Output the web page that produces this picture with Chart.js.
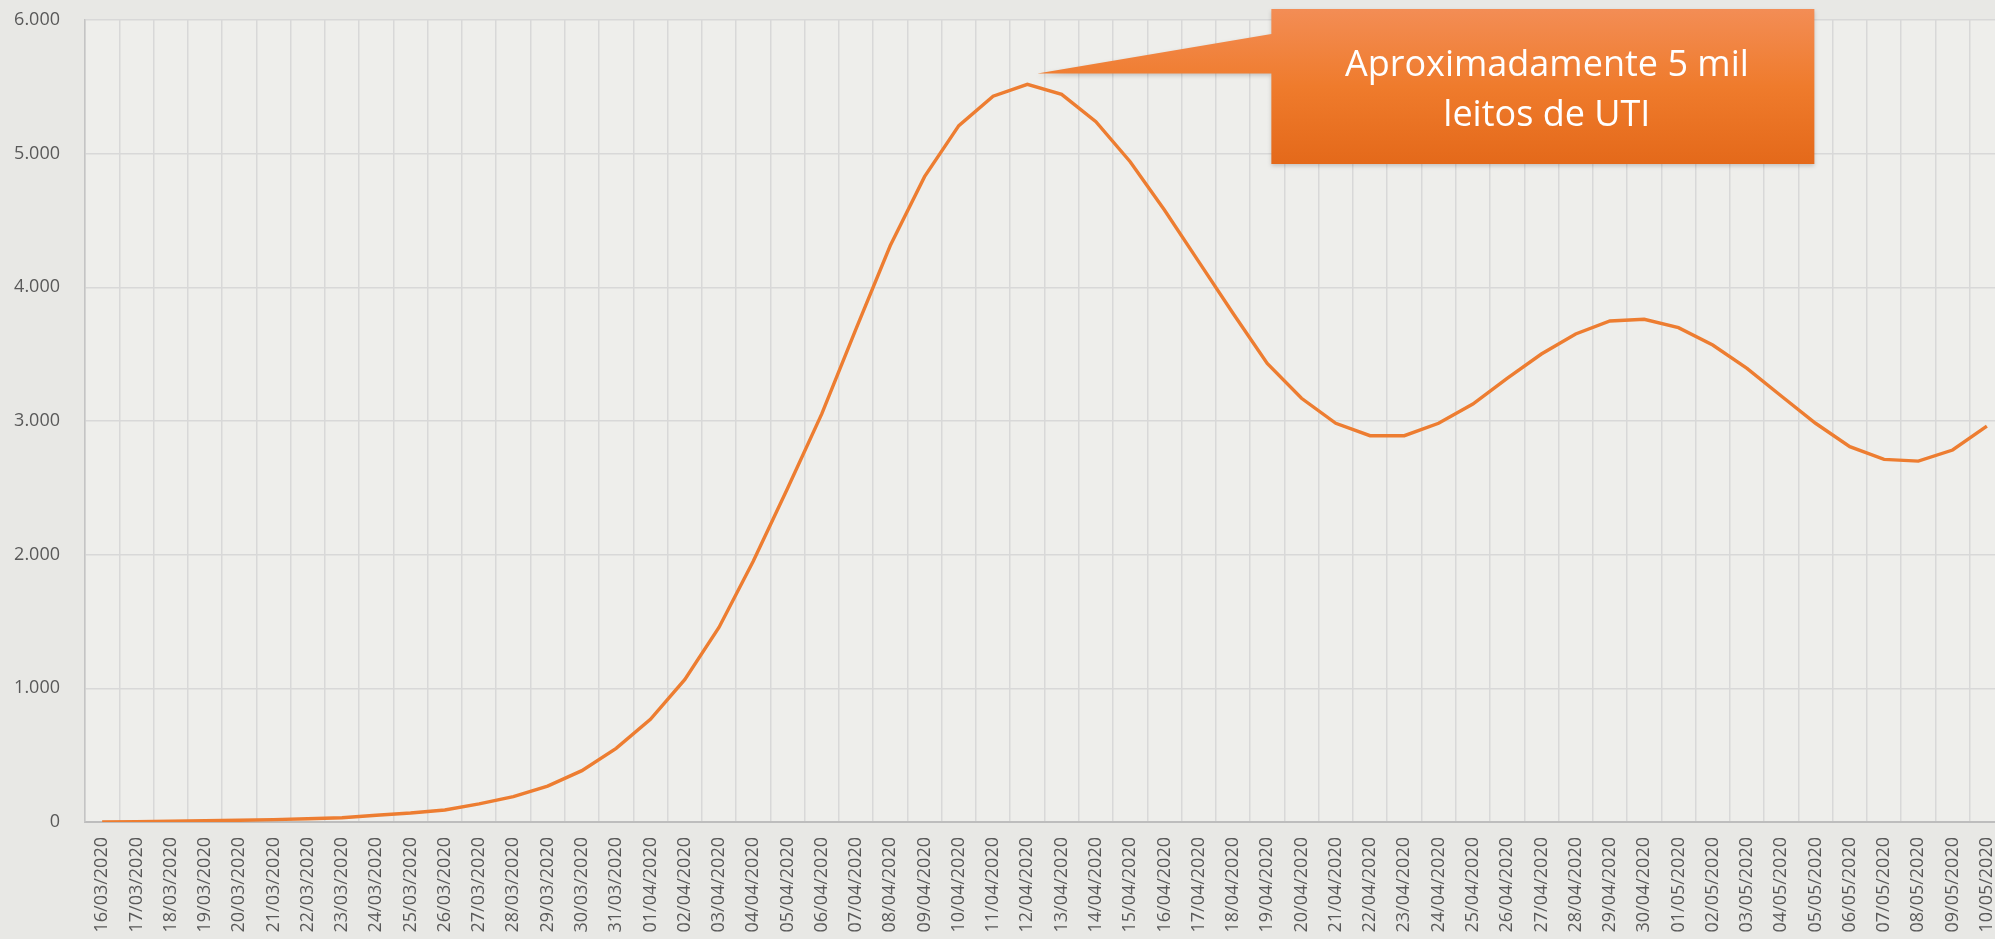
<!DOCTYPE html>
<html>
<head>
<meta charset="utf-8">
<script src="https://cdn.jsdelivr.net/npm/chart.js@4.4.1/dist/chart.umd.min.js"></script>
<style>
  html, body { margin: 0; padding: 0; overflow: hidden; background: #e9e9e6; }
  #leitos { display: block; }
</style>
</head>
<body>
<canvas id="leitos" width="2004" height="939"></canvas>
<script>
const DATES = [
  '16/03/2020', '17/03/2020', '18/03/2020', '19/03/2020', '20/03/2020', '21/03/2020', '22/03/2020', '23/03/2020',
  '24/03/2020', '25/03/2020', '26/03/2020', '27/03/2020', '28/03/2020', '29/03/2020', '30/03/2020', '31/03/2020',
  '01/04/2020', '02/04/2020', '03/04/2020', '04/04/2020', '05/04/2020', '06/04/2020', '07/04/2020', '08/04/2020',
  '09/04/2020', '10/04/2020', '11/04/2020', '12/04/2020', '13/04/2020', '14/04/2020', '15/04/2020', '16/04/2020',
  '17/04/2020', '18/04/2020', '19/04/2020', '20/04/2020', '21/04/2020', '22/04/2020', '23/04/2020', '24/04/2020',
  '25/04/2020', '26/04/2020', '27/04/2020', '28/04/2020', '29/04/2020', '30/04/2020', '01/05/2020', '02/05/2020',
  '03/05/2020', '04/05/2020', '05/05/2020', '06/05/2020', '07/05/2020', '08/05/2020', '09/05/2020', '10/05/2020'
];

const LEITOS_UTI = [
  0, 3, 6, 9, 13, 18, 24, 32,
  50, 67, 90, 135, 190, 269, 384, 551,
  768, 1065, 1455, 1951, 2495, 3053, 3689, 4313,
  4828, 5210, 5430, 5519, 5444, 5239, 4940, 4579,
  4192, 3806, 3431, 3170, 2983, 2890, 2890, 2983,
  3127, 3319, 3501, 3651, 3748, 3761, 3698, 3568,
  3394, 3187, 2983, 2808, 2713, 2700, 2783, 2962
];

const Y_TICKS = [0, 1000, 2000, 3000, 4000, 5000, 6000];

const CALLOUT_LINES = ['Aproximadamente 5 mil', 'leitos de UTI'];
const CALLOUT_DATE = '12/04/2020';
const CALLOUT_VALUE = 5600;

function formatMil(v) {
  return String(v).replace(/\B(?=(\d{3})+(?!\d))/g, '.');
}

// no extra room for tick labels, the plot area is pinned by afterFit
function noPadding(scale) {
  scale.paddingTop = 0;
  scale.paddingBottom = 0;
  scale.paddingLeft = 0;
  scale.paddingRight = 0;
}

const fundoPlugin = {
  id: 'fundo',
  beforeDraw(chart) {
    const ctx = chart.ctx;
    const a = chart.chartArea;
    ctx.save();
    ctx.fillStyle = '#e8e8e5';
    ctx.fillRect(0, 0, chart.width, chart.height);
    ctx.fillStyle = '#eeeeeb';
    ctx.fillRect(a.left, a.top, a.right - a.left, a.bottom - a.top);
    ctx.restore();
  }
};

const calloutPlugin = {
  id: 'callout',
  afterDraw(chart) {
    const ctx = chart.ctx;
    const xs = chart.scales.x;
    const ys = chart.scales.y;
    const a = chart.chartArea;

    const tipX = xs.getPixelForValue(DATES.indexOf(CALLOUT_DATE)) + 10;
    const tipY = ys.getPixelForValue(CALLOUT_VALUE);
    const left = tipX + 234;
    const top = a.top - 11;
    const w = 543;
    const h = 155;

    ctx.save();
    const g = ctx.createLinearGradient(0, top, 0, top + h);
    g.addColorStop(0, '#f38d55');
    g.addColorStop(0.5, '#ef7b2c');
    g.addColorStop(1, '#e4691a');
    ctx.fillStyle = g;
    ctx.shadowColor = 'rgba(0,0,0,0.18)';
    ctx.shadowBlur = 4;
    ctx.shadowOffsetY = 2;
    ctx.beginPath();
    ctx.moveTo(left, top);
    ctx.lineTo(left + w, top);
    ctx.lineTo(left + w, top + h);
    ctx.lineTo(left, top + h);
    ctx.lineTo(left, tipY);
    ctx.lineTo(tipX, tipY);
    ctx.lineTo(left, top + 25);
    ctx.closePath();
    ctx.fill();
    ctx.shadowColor = 'transparent';

    ctx.fillStyle = '#ffffff';
    ctx.font = '36px "Open Sans"';
    ctx.textAlign = 'center';
    ctx.textBaseline = 'alphabetic';
    const cx = left + w / 2 + 4;
    ctx.fillText(CALLOUT_LINES[0], cx, top + 67);
    ctx.fillText(CALLOUT_LINES[1], cx, top + 117);
    ctx.restore();
  }
};

const dataLeitos = {
  labels: DATES,
  datasets: [
    {
      label: 'Leitos de UTI',
      data: LEITOS_UTI,
      borderColor: '#ed7d31',
      backgroundColor: '#ed7d31',
      borderWidth: 3.4,
      pointRadius: 0,
      tension: 0,
      fill: false
    }
  ]
};

const configLeitos = {
  type: 'line',
  data: dataLeitos,
  options: {
    responsive: false,
    animation: false,
    devicePixelRatio: 1,
    layout: {
      padding: { top: 20, left: 0, right: 0, bottom: 0 }
    },
    plugins: {
      legend: { display: false },
      title: { display: false },
      tooltip: { enabled: false }
    },
    scales: {
      x: {
        type: 'category',
        offset: true,
        grid: {
          offset: true,
          color: '#d8d8d8',
          lineWidth: 1.5,
          drawTicks: false
        },
        border: { color: '#bdbdbd', width: 2 },
        ticks: {
          autoSkip: false,
          minRotation: 90,
          maxRotation: 90,
          padding: 15,
          color: '#595959',
          font: { family: '"Open Sans"', size: 18 }
        },
        afterFit(scale) {
          scale.height = 117;
          noPadding(scale);
        }
      },
      y: {
        min: 0,
        max: 6000,
        grid: {
          color: '#d8d8d8',
          lineWidth: 1.5,
          drawTicks: false
        },
        border: { color: '#c4c4c4', width: 1.5 },
        afterBuildTicks(scale) {
          scale.ticks = Y_TICKS.map(v => ({ value: v }));
        },
        ticks: {
          padding: 25,
          color: '#595959',
          font: { family: '"Open Sans"', size: 18 },
          callback: (v) => formatMil(v)
        },
        afterFit(scale) {
          scale.width = 85;
          noPadding(scale);
        }
      }
    }
  },
  plugins: [fundoPlugin, calloutPlugin]
};

var leitosChart = new Chart(
  document.getElementById('leitos'),
  configLeitos
);
</script>
</body>
</html>
